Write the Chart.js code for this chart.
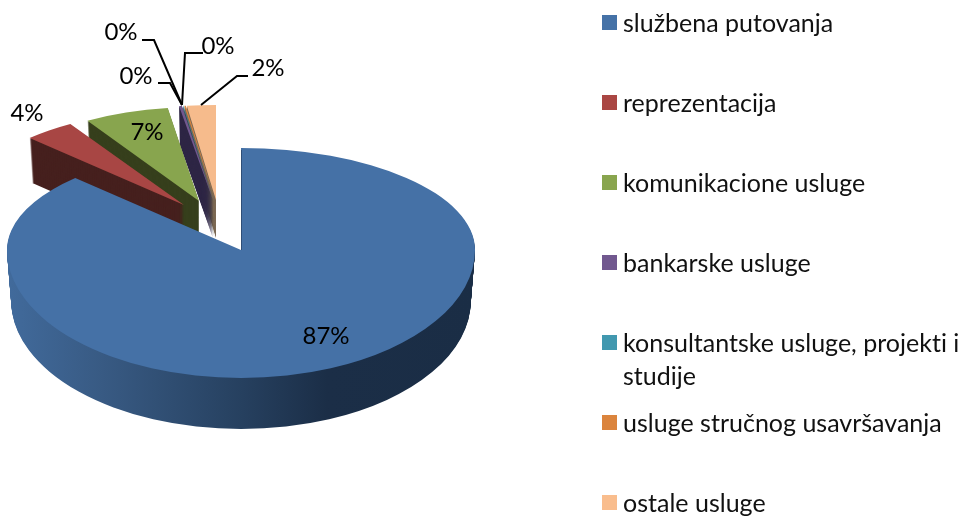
<!DOCTYPE html>
<html><head><meta charset="utf-8">
<style>html,body{margin:0;padding:0;background:#fff}canvas{display:block}</style>
<script src="https://cdn.jsdelivr.net/npm/chart.js@4"></script>
</head><body><canvas id="c" width="961" height="517"></canvas>
<script>
const categories = ['službena putovanja','reprezentacija','komunikacione usluge','bankarske usluge','konsultantske usluge, projekti i studije','usluge stručnog usavršavanja','ostale usluge'];
const values = [87.49,3.8,6.4,0.2,0.03,0.1,2.0];
const valueLabels = ['87%','4%','7%','0%','0%','0%','2%'];

const topColors = ['#4571a6','#a84644','#88a54e','#71588f','#4198af','#db843d','#f6bb8c'];
const sideColors = [null,'#46201e','#363f1c','#2e2645','#1c4650','#7d6a55','#7d6a55'];
const legendColors = ['#4572a7','#aa4643','#89a54e','#71588f','#4198af','#db843d','#f9bd8d'];
/* per-slice projection on the page (3D tilt and explosion) */
const tilt = [
 {ax:241,ay:250,rx:234,ryU:102,ryD:128,depth:51},
 {ax:184,ay:205,rx:218,ryU:95,ryD:95,depth:45},
 {ax:199,ay:201,rx:214,ryU:94,ryD:94,depth:45},
 {ax:213,ay:200,rx:233,ryU:95,ryD:95,depth:38},
 {ax:214,ay:200,rx:233,ryU:95,ryD:95,depth:38},
 {ax:215,ay:200,rx:233,ryU:95,ryD:95,depth:38},
 {ax:216,ay:200,rx:233,ryU:95,ryD:95,depth:38}
];
const paintOrder = [6,5,4,3,2,1,0];
const labelPos = [[326,336],[27,113],[147,132],[136,76],[121,32],[218,46],[268,68]];
const leaders = [null,null,null,
 [[158,83],[170,83],[182,105]],
 [[142,40],[154,40],[182,105]],
 [[203,53],[185,53],[182,105]],
 [[248,76],[237,76],[201,105]]];
const legendY = [24,104,184,264,344,424,504];
const VALUE_FONT = '24px Lato, Carlito, "Open Sans", sans-serif';
const LEGEND_FONT = '25px Lato, Carlito, "Open Sans", sans-serif';

function paint(ctx, arc, g, dy, shrink, color){
  const R = arc.outerRadius, rx = g.rx*shrink;
  const bands = [[0,g.ay+dy,g.ryU],[g.ay+dy,517-(g.ay+dy),g.ryD]];
  bands.forEach(([y,h,ry])=>{
    ctx.save();
    ctx.beginPath(); ctx.rect(0,y,961,h); ctx.clip();
    ctx.translate(g.ax,g.ay+dy);
    ctx.scale(rx/R,ry/R);
    ctx.translate(-arc.x,-arc.y);
    const saved = arc.options;
    let fill = color;
    if (typeof color === 'function') fill = color(ctx,arc,g,rx,R);
    arc.options = Object.assign({},saved,{backgroundColor:fill,borderWidth:0});
    arc.draw(ctx);
    arc.options = saved;
    ctx.restore();
  });
}
function blueSide(ctx,arc,g,rx,R){
  const u = sx => arc.x+(sx-g.ax)*R/rx;
  const gr = ctx.createLinearGradient(u(10),0,u(476),0);
  gr.addColorStop(0,'#416a9b');
  gr.addColorStop(0.2,'#385a83');
  gr.addColorStop(0.5,'#26405f');
  gr.addColorStop(0.68,'#1b2e47');
  gr.addColorStop(1,'#1a2d45');
  return gr;
}
const pie3d = {
  id:'pie3d',
  beforeDatasetsDraw(chart){
    const ctx = chart.ctx, arcs = chart.getDatasetMeta(0).data;
    paintOrder.forEach(i=>{
      const g = tilt[i], arc = arcs[i];
      for(let d=g.depth;d>=1;d--){
        paint(ctx,arc,g,d,1-0.018*d/g.depth,i===0?blueSide:sideColors[i]);
      }
      paint(ctx,arc,g,0,1,topColors[i]);
    });
    const b = tilt[0];
    ctx.save();
    ctx.strokeStyle='rgba(30,50,80,0.55)'; ctx.lineWidth=1;
    ctx.beginPath(); ctx.moveTo(b.ax+0.5,b.ay-b.ryU+2); ctx.lineTo(b.ax+0.5,b.ay); ctx.stroke();
    ctx.restore();
    return false;
  },
  afterDraw(chart){
    const ctx = chart.ctx;
    ctx.save();
    ctx.strokeStyle='#000'; ctx.lineWidth=2;
    leaders.forEach(p=>{
      if(!p) return;
      ctx.beginPath();
      p.forEach(([x,y],k)=>k?ctx.lineTo(x,y):ctx.moveTo(x,y));
      ctx.stroke();
    });
    ctx.font=VALUE_FONT; ctx.fillStyle='#000'; ctx.textBaseline='middle'; ctx.textAlign='center';
    valueLabels.forEach((t,i)=>ctx.fillText(t,labelPos[i][0],labelPos[i][1]));
    ctx.font=LEGEND_FONT; ctx.textAlign='left';
    ctx.letterSpacing='0.01px';
    categories.forEach((t,i)=>{
      const y=legendY[i];
      ctx.fillStyle=legendColors[i]; ctx.fillRect(602,y-9,15,15);
      ctx.fillStyle='#111';
      if(t.length>32){
        const cut=t.lastIndexOf(' ');
        ctx.fillText(t.slice(0,cut),623,y);
        ctx.fillText(t.slice(cut+1),623,y+33);
      } else ctx.fillText(t,623,y);
    });
    ctx.restore();
  }
};
new Chart(document.getElementById('c'),{
  type:'pie',
  data:{labels:categories,datasets:[{data:values,backgroundColor:topColors,borderWidth:0}]},
  options:{responsive:false,animation:false,
    plugins:{legend:{display:false},tooltip:{enabled:false}}},
  plugins:[pie3d]
});
</script></body></html>
